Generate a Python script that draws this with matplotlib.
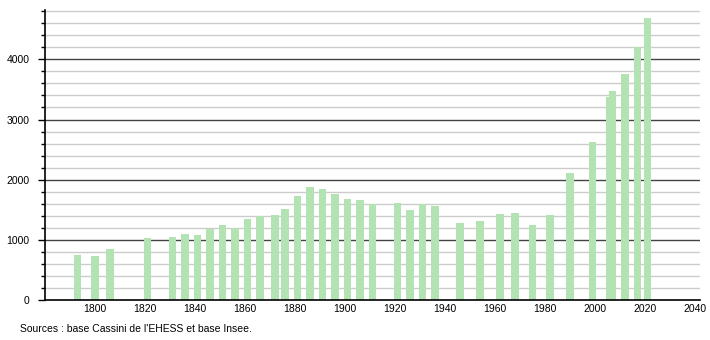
import matplotlib
matplotlib.use("Agg")
import matplotlib.pyplot as plt
from matplotlib.ticker import MultipleLocator

years = [1793, 1800, 1806, 1821, 1831, 1836, 1841, 1846, 1851, 1856, 1861, 1866,
         1872, 1876, 1881, 1886, 1891, 1896, 1901, 1906, 1911, 1921, 1926, 1931,
         1936, 1946, 1954, 1962, 1968, 1975, 1982, 1990, 1999, 2006, 2007, 2012,
         2017, 2021]
population = [747, 730, 852, 1030, 1046, 1091, 1075, 1185, 1240, 1190, 1345, 1400,
              1406, 1506, 1722, 1872, 1838, 1755, 1672, 1656, 1590, 1611, 1490, 1595,
              1556, 1279, 1312, 1429, 1445, 1240, 1406, 2110, 2625, 3373, 3473, 3756,
              4199, 4681]
xticks = [1800, 1820, 1840, 1860, 1880, 1900, 1920, 1940, 1960, 1980, 2000, 2020, 2040]
yticks = [0, 1000, 2000, 3000, 4000]
source = "Sources : base Cassini de l'EHESS et base Insee."

plt.rcParams['font.family'] = ['Liberation Sans', 'DejaVu Sans']

fig = plt.figure(figsize=(7.1, 3.4), dpi=100)
ax = fig.add_axes([45/710, 40/340, 655/710, 290/340])

for y in range(200, 4801, 200):
    if y % 1000 == 0:
        ax.axhline(y, color='#444444', lw=1.0, zorder=1)
    else:
        ax.axhline(y, color='#cccccc', lw=1.0, zorder=1)

ax.bar(years, population, width=3.1, color='#b3e2b3', zorder=2, align='center')

ax.set_xlim(1780, 2042)
ax.set_ylim(0, 4820)
ax.set_xticks(xticks)
ax.set_yticks(yticks)
ax.yaxis.set_minor_locator(MultipleLocator(200))
ax.tick_params(axis='x', length=0, labelsize=7.5, pad=3)
ax.tick_params(axis='y', which='major', length=5, width=1, labelsize=7.5, pad=6)
ax.tick_params(axis='y', which='minor', length=3, width=1)
for s in ['top', 'right']:
    ax.spines[s].set_visible(False)
ax.spines['left'].set_color('black')
ax.spines['bottom'].set_color('black')
ax.spines['left'].set_linewidth(1.2)
ax.spines['bottom'].set_linewidth(1.2)

fig.text(20/710, 1 - 329/340, source, fontsize=7.5, va='center', ha='left')

fig.savefig('out.png', dpi=100)
